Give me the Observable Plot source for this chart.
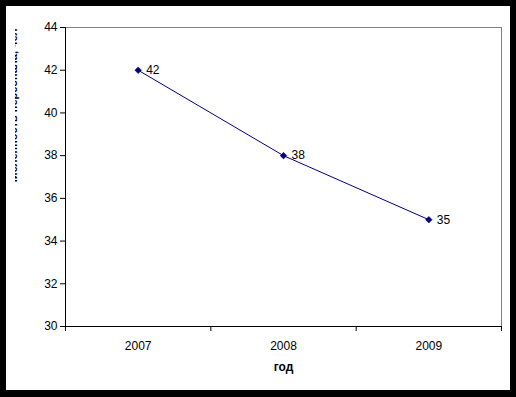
<!DOCTYPE html>
<html>
<head>
<meta charset="utf-8">
<script src="https://cdn.jsdelivr.net/npm/d3@7"></script>
<script src="https://cdn.jsdelivr.net/npm/@observablehq/plot@0.6"></script>
<style>
  html, body { margin: 0; padding: 0; background: #000; width: 516px; height: 397px; overflow: hidden; }
  #box { position: absolute; left: 6px; top: 6px; width: 504px; height: 384px; background: #fff; overflow: hidden; }
  #chart { position: absolute; left: 9px; top: 0; }
</style>
</head>
<body>
<div id="box"><div id="chart"></div></div>
<script>
const years = [2007, 2008, 2009];
const staff = [42, 38, 35];
const yTicks = [30, 32, 34, 36, 38, 40, 42, 44];
const xTitle = "год";
const yTitle = "Численность персонала, чел";

const data = years.map((y, i) => ({year: y, value: staff[i]}));
const bounds = [years[0] - 0.5, ...years.map(y => y + 0.5)];

const chart = Plot.plot({
  width: 495,
  height: 384,
  marginLeft: 50,
  marginRight: 9,
  marginTop: 21,
  marginBottom: 64,
  style: {fontFamily: "'Liberation Sans', Arial, sans-serif", fontSize: "12px", background: "white", color: "black"},
  x: {domain: [bounds[0], bounds[bounds.length - 1]]},
  y: {domain: [30, 44]},
  marks: [
    Plot.frame({stroke: "#808080"}),
    Plot.ruleY([30], {stroke: "black"}),
    Plot.ruleX([bounds[0]], {stroke: "black"}),
    Plot.axisY({ticks: yTicks, tickSize: 5, tickPadding: 3, label: null, tickFormat: d => String(d)}),
    Plot.axisX({ticks: bounds, tickSize: 5, tickFormat: () => "", label: null}),
    Plot.axisX({ticks: years, tickSize: 0, tickPadding: 15, tickFormat: d => String(d), label: null}),
    Plot.line(data, {x: "year", y: "value", stroke: "#000080", strokeWidth: 1}),
    Plot.dot(data, {x: "year", y: "value", symbol: "diamond2", r: 3, fill: "#000080", stroke: "#000080", strokeWidth: 0.5}),
    Plot.text(data, {x: "year", y: "value", text: d => String(d.value), textAnchor: "start", dx: 8, fontSize: 12}),
    Plot.text([xTitle], {frameAnchor: "bottom", dy: 44, fontWeight: "bold", fontSize: 12}),
    Plot.text([yTitle], {frameAnchor: "left", rotate: -90, dx: -49, dy: 10, fontWeight: "bold", fontSize: 11, lineAnchor: "bottom"})
  ]
});
document.getElementById("chart").appendChild(chart);
</script>
</body>
</html>
